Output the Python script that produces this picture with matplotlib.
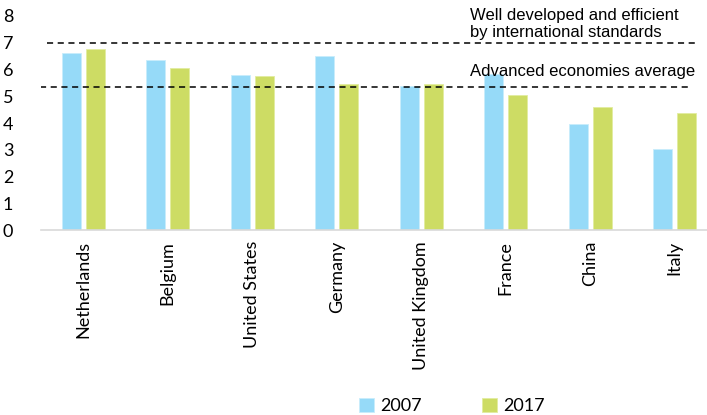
import matplotlib
matplotlib.use("Agg")
import matplotlib.pyplot as plt
import numpy as np

categories = ["Netherlands", "Belgium", "United States", "Germany",
              "United Kingdom", "France", "China", "Italy"]
values_2007 = [6.62, 6.34, 5.79, 6.49, 5.39, 5.83, 3.95, 3.03]
values_2017 = [6.75, 6.05, 5.75, 5.46, 5.46, 5.06, 4.58, 4.36]
yticks = [0, 1, 2, 3, 4, 5, 6, 7, 8]
ref_high = 7.0
ref_avg = 5.35
label_high = "Well developed and efficient\nby international standards"
label_avg = "Advanced economies average"

c2007 = "#96DAF8"
c2017 = "#CDDC64"

fig = plt.figure(figsize=(7.07, 4.15), dpi=100)
W, H = 707, 415
ax = fig.add_axes([41 / W, 1 - 230 / H, (717 - 41) / W, (230 - 16) / H])

x = np.arange(len(categories))
bw = 0.225
off = 0.142
ax.bar(x - off, values_2007, width=bw, color=c2007, edgecolor="#c8ecfb", linewidth=0.6, label="2007", zorder=2)
ax.bar(x + off, values_2017, width=bw, color=c2017, edgecolor="#e2eca0", linewidth=0.6, label="2017", zorder=2)

ax.set_xlim(-0.5, len(categories) - 0.5)
ax.set_ylim(0, 8)
ax.set_yticks(yticks)

tickfont = "Lato"
ax.set_yticklabels([str(t) for t in yticks], fontsize=13, family=tickfont)
ax.set_xticks(x)
ax.set_xticklabels(categories, rotation=90, fontsize=13, family=tickfont)
ax.tick_params(axis="both", length=0)
ax.tick_params(axis="y", pad=20)
ax.tick_params(axis="x", pad=8)

for s in ["top", "right", "left"]:
    ax.spines[s].set_visible(False)
ax.spines["bottom"].set_color("#d9d9d9")
ax.spines["bottom"].set_linewidth(1.2)

def px2frac(px):
    return (px - 41) / (717 - 41)

ax.axhline(ref_high, xmin=px2frac(47), xmax=px2frac(695), color="black",
           linestyle=(0, (4, 3)), linewidth=1.1, zorder=3)
ax.axhline(ref_avg, xmin=px2frac(40), xmax=px2frac(688), color="black",
           linestyle=(0, (4, 3)), linewidth=1.1, zorder=3)

textx = px2frac(470)
ax.text(textx, 7.1, label_high, transform=ax.get_yaxis_transform(),
        fontsize=12, family="Liberation Sans", va="bottom", ha="left", linespacing=1.2)
ax.text(textx, 5.75, label_avg, transform=ax.get_yaxis_transform(),
        fontsize=12, family="Liberation Sans", va="baseline", ha="left", zorder=4)

leg = fig.legend(loc="center", bbox_to_anchor=(452 / W, 1 - 406 / H), ncol=2,
                 frameon=False, prop={"family": tickfont, "size": 13},
                 handlelength=0.8, handleheight=0.8, columnspacing=3.35, handletextpad=0.35)

fig.savefig("out.png", dpi=100)
